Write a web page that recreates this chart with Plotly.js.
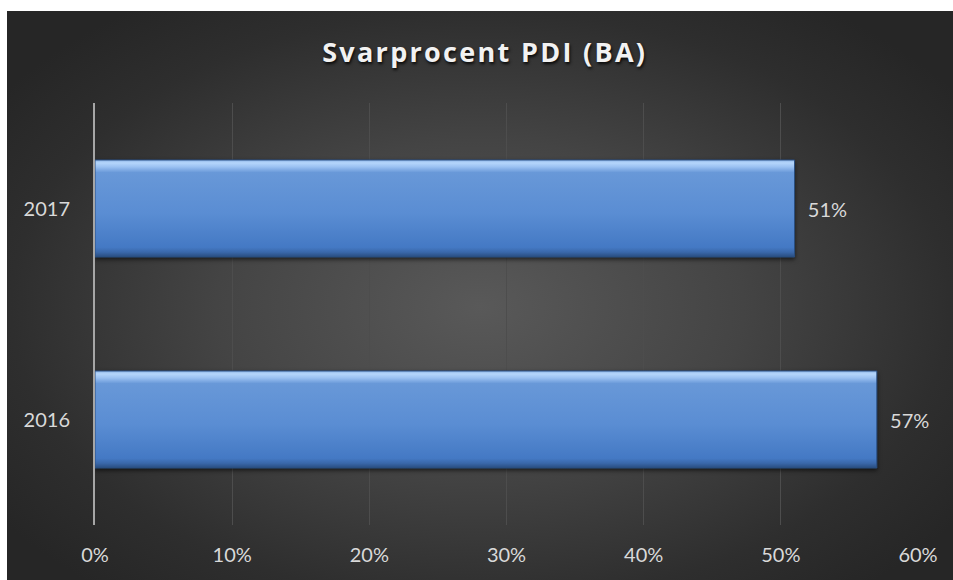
<!DOCTYPE html>
<html>
<head>
<meta charset="utf-8">
<script src="https://cdn.plot.ly/plotly-3.0.1.min.js"></script>
<style>
  html, body { margin: 0; padding: 0; background: #ffffff; }
  #chart {
    position: absolute; left: 7px; top: 11px; width: 946px; height: 569px;
    background: radial-gradient(ellipse 62% 65% at 50% 52%, #595959 0%, #444444 45%, #2e2e2e 80%, #262626 100%);
  }
  #chart .gtitle { letter-spacing: 2.3px; }
</style>
</head>
<body>
<div id="chart"></div>
<script>
const categories = ["2016", "2017"];
const values = [0.57, 0.51];
const valueLabels = ["57%", "51%"];
const xTickVals = [0, 0.1, 0.2, 0.3, 0.4, 0.5, 0.6];
const xTickText = ["0%", "10%", "20%", "30%", "40%", "50%", "60%"];
const chartTitle = "Svarprocent PDI (BA)";

const labelFont = { family: "Lato, 'Open Sans', sans-serif", size: 20, color: "#d9d9d9" };

const trace = {
  type: "bar",
  orientation: "h",
  y: categories,
  x: values,
  width: 0.46,
  text: valueLabels,
  texttemplate: "\u00a0\u00a0%{text}",
  textposition: "outside",
  outsidetextfont: labelFont,
  textfont: labelFont,
  constraintext: "none",
  cliponaxis: false,
  marker: { color: "#5689cf", line: { color: "#2a4f82", width: 1 } },
  hoverinfo: "none"
};

const layout = {
  width: 946, height: 569,
  paper_bgcolor: "rgba(0,0,0,0)",
  plot_bgcolor: "rgba(0,0,0,0)",
  margin: { l: 88, r: 35, t: 92, b: 55 },
  title: {
    text: "<b>" + chartTitle + "</b>",
    x: 0.505, xanchor: "center",
    y: 0.927, yanchor: "middle",
    font: { family: "'Open Sans', sans-serif", size: 27, color: "#f2f2f2", shadow: "1px 2px 3px rgba(0,0,0,0.85)" }
  },
  xaxis: {
    range: [0, 0.6], autorange: false,
    tickvals: xTickVals, ticktext: xTickText,
    showgrid: true, gridcolor: "#4d4d4d", gridwidth: 1,
    zeroline: false, showline: false, ticks: "",
    ticklabelstandoff: 16,
    tickfont: labelFont,
    fixedrange: true
  },
  yaxis: {
    type: "category",
    categoryorder: "array", categoryarray: categories,
    range: [-0.5, 1.5], autorange: false,
    showgrid: false, zeroline: false,
    showline: true, linecolor: "#a6a6a6", linewidth: 2,
    ticks: "", ticklabelstandoff: 19,
    tickfont: labelFont,
    fixedrange: true
  },
  showlegend: false
};

Plotly.newPlot("chart", [trace], layout, { displayModeBar: false, staticPlot: true }).then(gd => {
  const svg = gd.querySelector("svg.main-svg");
  const ns = "http://www.w3.org/2000/svg";
  let defs = svg.querySelector("defs");
  if (!defs) { defs = document.createElementNS(ns, "defs"); svg.insertBefore(defs, svg.firstChild); }
  const grad = document.createElementNS(ns, "linearGradient");
  grad.setAttribute("id", "barGrad");
  grad.setAttribute("x1", "0"); grad.setAttribute("y1", "0");
  grad.setAttribute("x2", "0"); grad.setAttribute("y2", "1");
  const stops = [
    [0, "#8fb6e8"], [0.03, "#b5d6fb"], [0.07, "#9cc2f2"], [0.13, "#6898d8"],
    [0.55, "#5a8dd3"], [0.9, "#4479c4"], [0.95, "#3a68aa"], [1, "#284c7e"]
  ];
  stops.forEach(([o, c]) => {
    const s = document.createElementNS(ns, "stop");
    s.setAttribute("offset", o); s.setAttribute("stop-color", c);
    grad.appendChild(s);
  });
  defs.appendChild(grad);
  gd.querySelectorAll(".bars .point path").forEach(p => {
    p.style.fill = "url(#barGrad)";
    p.style.filter = "drop-shadow(0px 2px 2px rgba(0,0,0,0.6))";
  });
});
</script>
</body>
</html>
